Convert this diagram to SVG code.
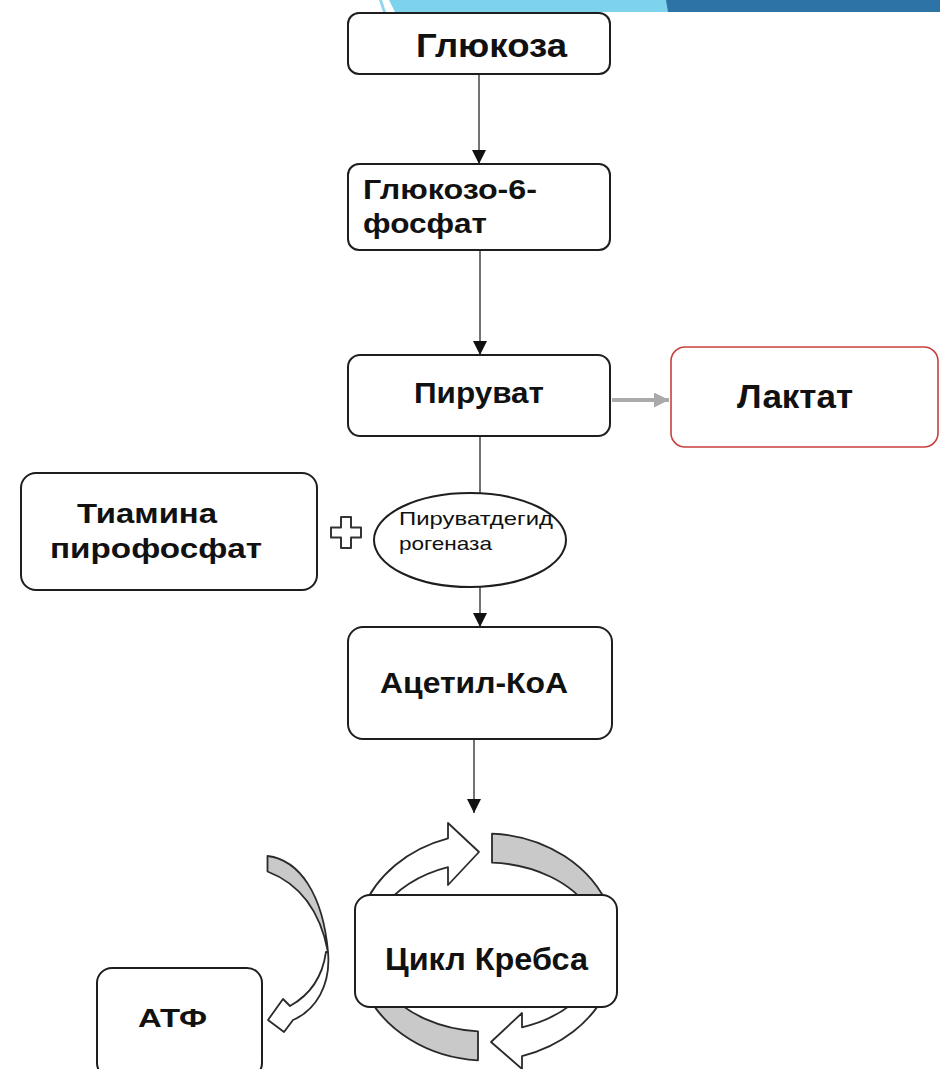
<svg xmlns="http://www.w3.org/2000/svg" width="940" height="1069" viewBox="0 0 940 1069">
<style>
.box{fill:#fff;stroke:#1e1e1e;stroke-width:2}
.lbl{font-family:"Liberation Sans",Arial,sans-serif;font-weight:bold;fill:#111}
.sm{font-family:"Liberation Sans",Arial,sans-serif;fill:#111}
.conn{stroke:#444;stroke-width:1.5;fill:none}
.ring{stroke:#2a2a2a;stroke-width:1.8;stroke-linejoin:round}
</style>
<defs>
<marker id="ah" viewBox="0 0 10 10" refX="10" refY="5" markerUnits="userSpaceOnUse" markerWidth="14" markerHeight="14" orient="auto">
<path d="M0,0 L10,5 L0,10 Z" fill="#111"/>
</marker>
<marker id="ahg" viewBox="0 0 10 10" refX="10" refY="5" markerUnits="userSpaceOnUse" markerWidth="18" markerHeight="15" orient="auto">
<path d="M0,0 L10,5 L0,10 Z" fill="#aaa"/>
</marker>
</defs>
<rect width="940" height="1069" fill="#fff"/>
<g id="banner">
<polygon points="379,0 382,0 386,12 383,12" fill="#8fd6ee"/>
<polygon points="389,0 668,0 670,12 395,12" fill="#7dd3ee"/>
<polygon points="666,0 940,0 940,12 668,12" fill="#2e73a5"/>
</g>
<g id="connectors">
<line class="conn" x1="479" y1="74" x2="479" y2="164" marker-end="url(#ah)"/>
<line class="conn" x1="480" y1="250" x2="480" y2="355" marker-end="url(#ah)"/>
<line class="conn" x1="480" y1="436" x2="480" y2="493"/>
<line class="conn" x1="480" y1="587" x2="480" y2="627" marker-end="url(#ah)"/>
<line class="conn" x1="474" y1="739" x2="474" y2="813" marker-end="url(#ah)"/>
<line x1="612" y1="400" x2="669" y2="400" stroke="#aaa" stroke-width="4" marker-end="url(#ahg)"/>
</g>
<g id="glucose">
<rect class="box" x="348" y="13" width="262" height="61" rx="11"/>
<text class="lbl" x="416" y="57" font-size="33" textLength="151" lengthAdjust="spacingAndGlyphs">Глюкоза</text>
</g>
<g id="g6p">
<rect class="box" x="348" y="164" width="262" height="86" rx="11"/>
<text class="lbl" x="363" y="199" font-size="27" textLength="174" lengthAdjust="spacingAndGlyphs">Глюкозо-6-</text>
<text class="lbl" x="363" y="233" font-size="27" textLength="124" lengthAdjust="spacingAndGlyphs">фосфат</text>
</g>
<g id="pyruvate">
<rect class="box" x="348" y="355" width="262" height="81" rx="12"/>
<text class="lbl" x="414" y="403" font-size="29" textLength="130" lengthAdjust="spacingAndGlyphs">Пируват</text>
</g>
<g id="lactate">
<rect x="671" y="347" width="267" height="100" rx="14" fill="#fff" stroke="#c8403e" stroke-width="1.6"/>
<text class="lbl" x="737" y="408" font-size="34" textLength="116" lengthAdjust="spacingAndGlyphs">Лактат</text>
</g>
<g id="thiamine">
<rect class="box" x="21" y="473" width="296" height="117" rx="15"/>
<text class="lbl" x="77" y="523" font-size="28" textLength="140" lengthAdjust="spacingAndGlyphs">Тиамина</text>
<text class="lbl" x="50" y="558" font-size="28" textLength="212" lengthAdjust="spacingAndGlyphs">пирофосфат</text>
</g>
<g id="plus">
<polygon points="341,517 351,517 351,527.5 361,527.5 361,537.5 351,537.5 351,548 341,548 341,537.5 331,537.5 331,527.5 341,527.5" fill="#fff" stroke="#333" stroke-width="2" stroke-linejoin="round"/>
</g>
<g id="pdh">
<ellipse cx="470" cy="540" rx="96" ry="47" fill="#fff" stroke="#1e1e1e" stroke-width="2"/>
<text class="sm" x="399" y="525" font-size="19" textLength="154" lengthAdjust="spacingAndGlyphs">Пируватдегид</text>
<text class="sm" x="399" y="550" font-size="19" textLength="93" lengthAdjust="spacingAndGlyphs">рогеназа</text>
</g>
<g id="acetylcoa">
<rect class="box" x="348" y="627" width="264" height="112" rx="15"/>
<text class="lbl" x="380" y="693" font-size="29" textLength="188" lengthAdjust="spacingAndGlyphs">Ацетил-КоА</text>
</g>
<g id="krebs">
<path class="ring" fill="#c9c9c9" d="M492,833.6 A131,113.5 0 0 1 609.8,910 L590.3,910 A116,84.5 0 0 0 492,862.6 Z"/>
<path class="ring" fill="#c9c9c9" d="M364.8,990 A131,113.5 0 0 0 478,1060.3 L478,1031.3 A116,84.5 0 0 1 386.1,990 Z"/>
<path class="ring" fill="#fff" d="M362.2,910 A131,113.5 0 0 1 448,838.4 L448,823 L479,852 L448,885 L448,867.2 A116,84.5 0 0 0 381.7,910 Z"/>
<path class="ring" fill="#fff" d="M607.2,990 A131,113.5 0 0 1 522,1056.1 L522,1069 L491,1042 L522,1013 L522,1027.3 A116,84.5 0 0 0 585.9,990 Z"/>
<rect class="box" x="355" y="895" width="262" height="112" rx="15"/>
<text class="lbl" x="385" y="970" font-size="32" textLength="203" lengthAdjust="spacingAndGlyphs">Цикл Кребса</text>
</g>
<g id="atp-arrow">
<path class="ring" fill="#c9c9c9" d="M267.5,856 C300,860 323,895 328,952 C320,910 300,884 267.5,871.5 Z"/>
<path class="ring" fill="#fff" d="M328,952 C331,985 316,1010 293,1020 L284,1032 L268,1020 L283,999 L290,1006 C308,996 322,980 326,952 Z"/>
</g>
<g id="atp">
<rect class="box" x="97" y="968" width="165" height="110" rx="15"/>
<text class="lbl" x="138" y="1027" font-size="26" textLength="69" lengthAdjust="spacingAndGlyphs">АТФ</text>
</g>
</svg>
